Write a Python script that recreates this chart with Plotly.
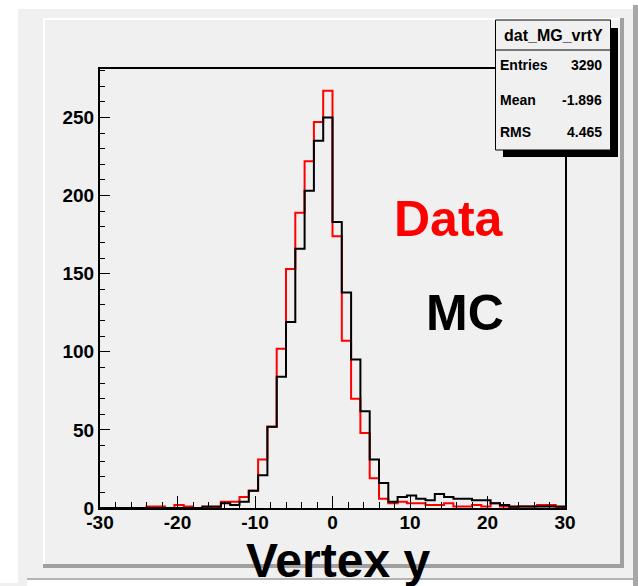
import numpy as np
import plotly.graph_objects as go

# Histogram binning: 50 bins over [-30, 30]
x_min, x_max, n_bins = -30.0, 30.0, 50

# Bin contents per histogram (left to right)
data_counts = [0, 0, 0, 0, 0, 1, 1, 0, 2, 1,
               0, 0, 0, 4, 4, 7, 11, 31, 52, 102,
               153, 189, 222, 247, 267, 174, 107, 70, 48, 19,
               6, 3, 4, 3, 3, 2, 2, 3, 1, 1,
               2, 1, 3, 1, 0, 1, 1, 2, 2, 0]
mc_counts = [0, 0, 0, 0, 0, 0, 0, 0, 0, 0,
             0, 1, 1, 3, 2, 4, 11, 21, 52, 84,
             119, 166, 203, 235, 250, 183, 138, 95, 62, 31,
             16, 4, 7, 8, 6, 5, 9, 7, 6, 6,
             5, 5, 3, 2, 1, 1, 1, 1, 1, 1]

x_ticks = [-30, -20, -10, 0, 10, 20, 30]
y_ticks = [0, 50, 100, 150, 200, 250]

stats_title = "dat_MG_vrtY"
stats_rows = [("Entries", "3290"), ("Mean", "-1.896"), ("RMS", "4.465")]

W, H = 638, 586
L, R, T, B = 100, 73, 69, 78
PAD_GRAY = "#f0f0f0"
FONT = "Liberation Sans, Arial, sans-serif"


def px(x):
    return (x - L) / (W - L - R)


def py(y):
    return (H - B - y) / (H - T - B)


edges = np.linspace(x_min, x_max, n_bins + 1)


def step_trace(counts, color):
    yv = list(counts) + [counts[-1]]
    return go.Scatter(x=edges, y=yv, mode="lines", line_shape="hv",
                      line=dict(color=color, width=2), hoverinfo="skip",
                      showlegend=False)


fig = go.Figure()
fig.add_trace(step_trace(data_counts, "#ff0000"))
fig.add_trace(step_trace(mc_counts, "#000000"))

shapes = []


def rect(x0, y0, x1, y1, fill, line_color=None, line_width=0, layer="below"):
    shapes.append(dict(type="rect", xref="paper", yref="paper",
                       x0=px(x0), x1=px(x1), y0=py(y1), y1=py(y0),
                       fillcolor=fill, layer=layer,
                       line=dict(color=line_color or fill, width=line_width)))


# canvas surround
rect(0, 0, W, 9, "#ffffff")
rect(0, 9, 18, 583, "#ffffff")
rect(633, 5, 638, 586, "#a8a8a8")
rect(27, 578, 633, 580, "#b4b4b4")
rect(27, 580, 633, 586, "#ffffff")
# pad with bevelled border
rect(43, 18, 624, 568, PAD_GRAY)
rect(43, 18, 624, 20, "#ffffff")
rect(43, 18, 45, 568, "#ffffff")
rect(620, 18, 624, 568, "#a0a0a0")
rect(43, 564, 624, 568, "#a0a0a0")

# statistics box with drop shadow
rect(503, 28, 618, 157, "#000000", layer="above")
rect(495.5, 20, 610.5, 150, PAD_GRAY, "#000000", 1, layer="above")
shapes.append(dict(type="line", xref="paper", yref="paper",
                   x0=px(495.5), x1=px(610.5), y0=py(50), y1=py(50),
                   line=dict(color="#000000", width=1), layer="above"))

annotations = [
    dict(text=stats_title, x=px(553), y=py(35), xref="paper", yref="paper",
         showarrow=False, xanchor="center", yanchor="middle",
         font=dict(family=FONT, size=16, color="#000000", weight="bold")),
]
for (name, val), yy in zip(stats_rows, [65, 100, 132]):
    annotations.append(dict(text=name, x=px(498), y=py(yy), xref="paper", yref="paper",
                            showarrow=False, xanchor="left", yanchor="middle",
                            font=dict(family=FONT, size=14, color="#000000", weight="bold")))
    annotations.append(dict(text=val, x=px(604), y=py(yy), xref="paper", yref="paper",
                            showarrow=False, xanchor="right", yanchor="middle",
                            font=dict(family=FONT, size=14, color="#000000", weight="bold")))

annotations += [
    dict(text="Data", x=px(449), y=py(219), xref="paper", yref="paper",
         showarrow=False, xanchor="center", yanchor="middle",
         font=dict(family=FONT, size=50, color="#ff0000", weight="bold")),
    dict(text="MC", x=px(465), y=py(313), xref="paper", yref="paper",
         showarrow=False, xanchor="center", yanchor="middle",
         font=dict(family=FONT, size=50, color="#000000", weight="bold")),
    dict(text="Vertex y", x=px(338), y=py(560), xref="paper", yref="paper",
         showarrow=False, xanchor="center", yanchor="middle",
         font=dict(family=FONT, size=48, color="#000000", weight="bold")),
]

axis_font = dict(family=FONT, size=19, color="#000000", weight="bold")

fig.update_layout(
    width=W, height=H,
    margin=dict(l=L, r=R, t=T, b=B, pad=0),
    paper_bgcolor=PAD_GRAY,
    plot_bgcolor=PAD_GRAY,
    shapes=shapes,
    annotations=annotations,
    showlegend=False,
    xaxis=dict(range=[x_min, x_max], tickvals=x_ticks, ticktext=[str(v) for v in x_ticks],
               ticks="inside", ticklen=12, tickwidth=1, tickcolor="#000000",
               minor=dict(dtick=2, ticks="inside", ticklen=6, tickwidth=1, tickcolor="#000000"),
               showline=True, linecolor="#000000", linewidth=2, mirror=True,
               showgrid=False, zeroline=False, tickfont=axis_font,
               ticklabelstandoff=-4),
    yaxis=dict(range=[0, 281], tickvals=y_ticks, ticktext=[str(v) for v in y_ticks],
               ticks="inside", ticklen=10, tickwidth=1, tickcolor="#000000",
               minor=dict(dtick=10, ticks="inside", ticklen=5, tickwidth=1, tickcolor="#000000"),
               showline=True, linecolor="#000000", linewidth=2, mirror=True,
               showgrid=False, zeroline=False, tickfont=axis_font),
)

fig.write_html("out.html")
